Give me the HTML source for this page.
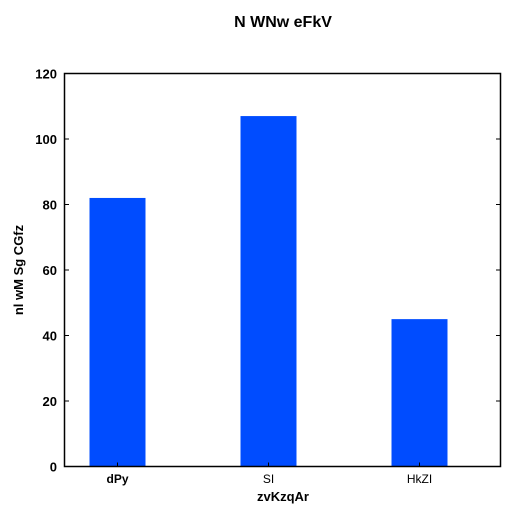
<!DOCTYPE html>
<html><head><meta charset="utf-8"><style>
body{margin:0;background:#fff;}
svg{display:block;font-family:"Liberation Sans",sans-serif;}
</style></head><body>
<svg id="chart" width="518" height="518">
<text x="283" y="27" text-anchor="middle" font-size="16" font-weight="bold">N WNw eFkV</text>
<text x="283" y="501" text-anchor="middle" font-size="13" font-weight="bold">zvKzqAr</text>
<text transform="translate(23,270) rotate(-90)" text-anchor="middle" font-size="13" font-weight="bold">nl wM Sg CGfz</text>
<g id="marks"></g>
<rect x="64.5" y="73.5" width="436" height="393" fill="none" stroke="#000" stroke-width="1.5"/>
</svg>
<script>
const categories = ["dPy", "SI", "HkZI"];
const values = [82, 107, 45];
const yTicks = [0, 20, 40, 60, 80, 100, 120];
const catBold = [true, false, false];

const ns = "http://www.w3.org/2000/svg";
const g = document.getElementById("marks");
const top0 = 73.5, bot = 466.5, yMax = 120;
function y(v){ return bot - (v / yMax) * (bot - top0); }
function xc(i){ return 117.5 + i * 151; }
const bw = 56;
function mk(tag, attrs){ const e = document.createElementNS(ns, tag); for (const k in attrs) e.setAttribute(k, attrs[k]); g.appendChild(e); return e; }

values.forEach((v, i) => {
  const r = mk("rect", {x: xc(i) - bw/2, y: y(v), width: bw, height: bot - y(v), fill: "#004cff"});
  
  
  const t = mk("line", {x1: xc(i), x2: xc(i), y1: bot, y2: bot - 4, stroke: "#000"});
  
  
  const l = mk("text", {x: xc(i), y: 483, "text-anchor": "middle", "font-size": "12", "font-weight": catBold[i] ? "bold" : "normal"});
  l.textContent = categories[i];
  
  
});
yTicks.forEach(v => {
  const a = mk("line", {x1: 64.5, x2: 69, y1: y(v), y2: y(v), stroke: "#000"});
  
  
  const b = mk("line", {x1: 496, x2: 500.5, y1: y(v), y2: y(v), stroke: "#000"});
  
  
  const l = mk("text", {x: 57, y: y(v) + 5, "text-anchor": "end", "font-size": "13", "font-weight": "bold"});
  l.textContent = v;
  
  
});
</script>
</body></html>
